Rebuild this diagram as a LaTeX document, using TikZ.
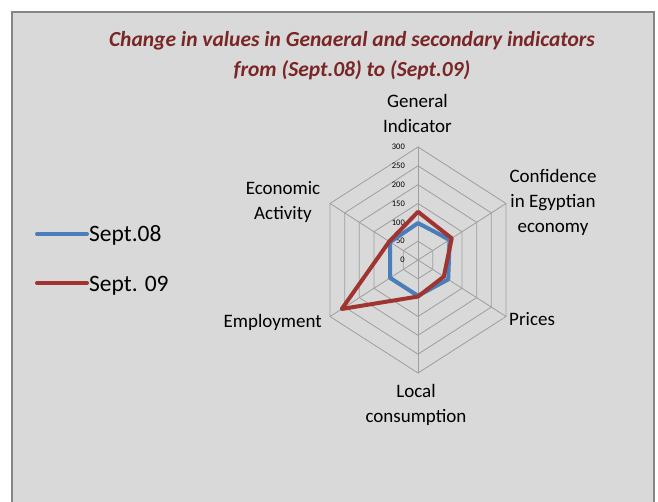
\documentclass[tikz,border=0pt]{standalone}
\usepackage{fontspec}
\setmainfont{Carlito}
\usepackage{tkz-euclide}

\definecolor{panelgray}{RGB}{217,217,217}
\definecolor{framegray}{RGB}{134,134,134}
\definecolor{gridgray}{RGB}{158,158,158}
\definecolor{septblue}{RGB}{74,126,187}
\definecolor{septred}{RGB}{160,52,48}
\definecolor{titlered}{RGB}{122,38,38}

\tikzset{
  catlabel/.style={font=\fontsize{19}{25}\selectfont, align=center, anchor=base, inner sep=0pt},
  ticklabel/.style={font=\fontsize{8.5}{9}\selectfont, anchor=east, inner sep=0pt},
  gridline/.style={draw=gridgray, line width=0.8pt},
  series/.style={line width=4pt, line join=round},
  legtext/.style={font=\fontsize{23.5}{25}\selectfont, anchor=base west, inner sep=0pt},
}

\begin{document}
\begin{tikzpicture}[x=1pt,y=-1pt]
\useasboundingbox (0,0) rectangle (658,502);
\fill[white] (0,0) rectangle (658,502);
\draw[framegray, line width=2pt, fill=panelgray] (12,12) rectangle (654,515);

% title (base = last line)
\node[font=\bfseries\itshape\fontsize{21.5}{30}\selectfont, text=titlered, align=center, anchor=base] (title) at (352,77)
  {Change in values in Genaeral and secondary indicators\\from (Sept.08) to (Sept.09)};

% legend
\tkzDefPoint(37,234){lbA}
\tkzDefPoint(87,234){lbB}
\tkzDrawSegment[septblue, line width=4pt, line cap=round](lbA,lbB)
\node[legtext] (leg08) at (89,241.7) {Sept.08};

\tkzDefPoint(37,283){lrA}
\tkzDefPoint(87,283){lrB}
\tkzDrawSegment[septred, line width=4pt, line cap=round](lrA,lrB)
\node[legtext] (leg09) at (89,291.7) {Sept. 09};

% radar
\begin{scope}[shift={(418,260)}, x={(0.3387pt,0pt)}, y={(0pt,0.3767pt)}]
\tkzDefPoint(0,0){ZERO}

\foreach \r in {50,100,...,300}{
  \draw[gridline] (90:\r) -- (30:\r) -- (-30:\r) -- (-90:\r) -- (210:\r) -- (150:\r) -- cycle;
}

\tkzDefPoint(90:300){tGI}
\tkzDefPoint(30:300){tCE}
\tkzDefPoint(-30:300){tPR}
\tkzDefPoint(-90:300){tLC}
\tkzDefPoint(210:300){tEM}
\tkzDefPoint(150:300){tEA}
\tkzDrawSegments[gridline](ZERO,tGI ZERO,tCE ZERO,tPR ZERO,tLC ZERO,tEM ZERO,tEA)

\foreach \v in {0,50,...,300}{
  \node[ticklabel] (tick\v) at ([xshift=-13pt]90:\v) {\v};
}

% Sept.08
\tkzDefPoint(90:98){b1}
\tkzDefPoint(30:108){b2}
\tkzDefPoint(-30:103){b3}
\tkzDefPoint(-90:95){b4}
\tkzDefPoint(210:95){b5}
\tkzDefPoint(150:95){b6}
\tkzDrawPolygon[series, septblue](b1,b2,b3,b4,b5,b6)

% Sept.09
\tkzDefPoint(90:128){r1}
\tkzDefPoint(30:115){r2}
\tkzDefPoint(-30:88){r3}
\tkzDefPoint(-90:97){r4}
\tkzDefPoint(210:260){r5}
\tkzDefPoint(150:98){r6}
\tkzDrawPolygon[series, septred](r1,r2,r3,r4,r5,r6)
\end{scope}

% category labels (base = last line)
\node[catlabel] (lGI) at (417.5,133) {General\\Indicator};
\node[catlabel] (lCE) at (553,233) {Confidence\\in Egyptian\\economy};
\node[catlabel, anchor=base west] (lPR) at (509,325) {Prices};
\node[catlabel] (lLC) at (416,422) {Local\\consumption};
\node[catlabel, anchor=base east] (lEM) at (322,327) {Employment};
\node[catlabel] (lEA) at (283,220) {Economic\\Activity};

\end{tikzpicture}
\end{document}
